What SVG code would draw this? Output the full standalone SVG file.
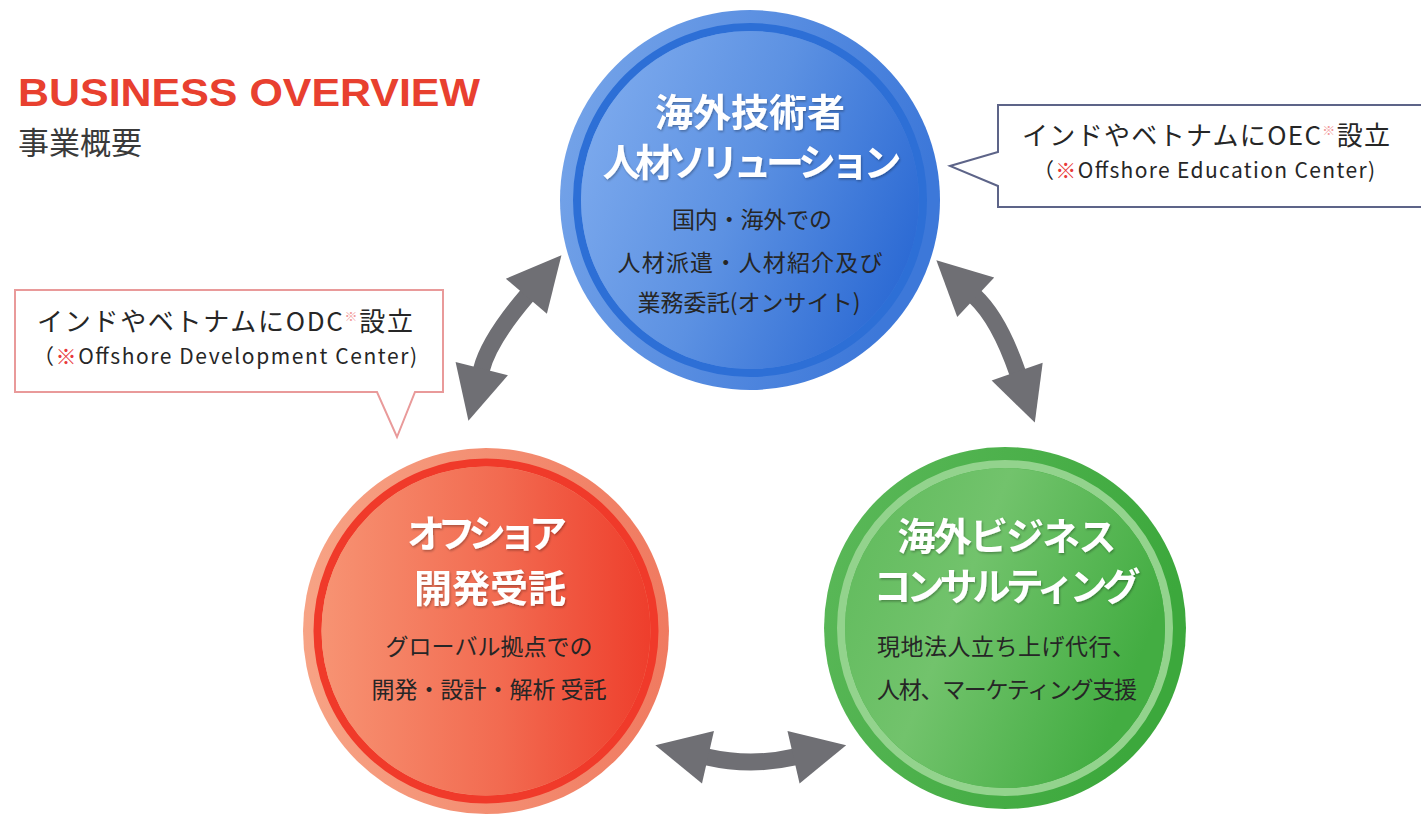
<svg xmlns="http://www.w3.org/2000/svg" width="1421" height="816" viewBox="0 0 1421 816">
<style>
.cjk{font-family:"Noto Sans CJK JP","Noto Sans",sans-serif}
.ttl{font-family:"Noto Sans CJK JP",sans-serif;font-weight:700;fill:#ffffff;text-anchor:middle;filter:url(#sh)}
.sub{font-family:"Noto Sans CJK JP",sans-serif;font-size:23px;fill:#262626;text-anchor:middle}
.co{font-family:"Noto Sans CJK JP","Noto Sans",sans-serif;fill:#262626;text-anchor:middle}
.shaft{fill:none;stroke:#6f6f74;stroke-width:17;marker-start:url(#ah);marker-end:url(#ah)}
.note{fill:#e8393a}
.sup{fill:#f29a9a;font-size:13px}
</style>
<defs>
<filter id="sh" x="-10%" y="-20%" width="120%" height="140%">
<feDropShadow dx="1" dy="1.5" stdDeviation="1" flood-color="#000" flood-opacity="0.3"/>
</filter>
<marker id="ah" markerUnits="userSpaceOnUse" viewBox="-2 -30 60 60" refX="0" refY="0" markerWidth="60" markerHeight="60" orient="auto-start-reverse" overflow="visible">
<path d="M-1,-27 L53,0 L-1,27 Z" fill="#6f6f74"/>
</marker>
<linearGradient id="bOut" x1="0" y1="0" x2="1" y2="0.3"><stop offset="0" stop-color="#79a7ea"/><stop offset="1" stop-color="#3d78d9"/></linearGradient>
<linearGradient id="bIn" x1="0" y1="0.2" x2="1" y2="0.6"><stop offset="0" stop-color="#7eabee"/><stop offset="0.5" stop-color="#5c91e2"/><stop offset="1" stop-color="#2d6bd4"/></linearGradient>
<linearGradient id="rOut" x1="0" y1="0" x2="1" y2="0"><stop offset="0" stop-color="#f7a385"/><stop offset="1" stop-color="#f07a60"/></linearGradient>
<linearGradient id="rIn" x1="0" y1="0" x2="1" y2="0"><stop offset="0" stop-color="#f79373"/><stop offset="0.55" stop-color="#f26a50"/><stop offset="1" stop-color="#ee3e2c"/></linearGradient>
<linearGradient id="gOut" x1="0" y1="0" x2="1" y2="0.3"><stop offset="0" stop-color="#5cb95a"/><stop offset="1" stop-color="#3ca83c"/></linearGradient>
<linearGradient id="gIn" x1="0" y1="0" x2="1" y2="0.4"><stop offset="0" stop-color="#5fba5b"/><stop offset="0.45" stop-color="#72c36c"/><stop offset="1" stop-color="#43ad42"/></linearGradient>
</defs>
<rect width="1421" height="816" fill="#ffffff"/>

<g id="heading">
<text x="18" y="106" font-family="Liberation Sans,Arial,sans-serif" font-weight="700" font-size="39" fill="#e8402f" textLength="462" lengthAdjust="spacingAndGlyphs">BUSINESS OVERVIEW</text>
<text x="18" y="154" class="cjk" font-size="31" fill="#3a3a3a">事業概要</text>
</g>

<g id="connectors">
<path class="shaft" d="M481.5,369.5 Q489,340 527,295.5"/>
<path class="shaft" d="M975,296.5 Q999,319 1017.5,372.5"/>
<path class="shaft" d="M707,757 Q751,767 794.5,757"/>
</g>

<g id="node-jinzai">
<circle cx="750" cy="200" r="190" fill="url(#bOut)"/>
<circle cx="750" cy="200" r="173" fill="none" stroke="#2d6fd6" stroke-width="8"/>
<circle cx="750" cy="200" r="169" fill="url(#bIn)"/>
<text x="750" y="126" class="ttl" font-size="38">海外技術者</text>
<text x="752" y="176" class="ttl" font-size="38" textLength="299" lengthAdjust="spacing">人材ソリューション</text>
<text x="752" y="228" class="sub" textLength="160" lengthAdjust="spacing">国内・海外での</text>
<text x="750" y="271" class="sub" textLength="265" lengthAdjust="spacing">人材派遣・人材紹介及び</text>
<text x="749" y="311" class="sub" textLength="223" lengthAdjust="spacing">業務委託(オンサイト)</text>
</g>

<g id="node-offshore">
<circle cx="486" cy="631" r="183" fill="url(#rOut)"/>
<circle cx="486" cy="631" r="168.5" fill="none" stroke="#f03a2a" stroke-width="8"/>
<circle cx="486" cy="631" r="164.5" fill="url(#rIn)"/>
<text x="487" y="547" class="ttl" font-size="38" textLength="160" lengthAdjust="spacing">オフショア</text>
<text x="490" y="602" class="ttl" font-size="38">開発受託</text>
<text x="489" y="655" class="sub">グローバル拠点での</text>
<text x="489" y="698" class="sub" textLength="235" lengthAdjust="spacing">開発・設計・解析 受託</text>
</g>

<g id="node-consulting">
<circle cx="1005" cy="628" r="181" fill="url(#gOut)"/>
<circle cx="1005" cy="628" r="164" fill="none" stroke="#93d38d" stroke-width="8"/>
<circle cx="1005" cy="628" r="160" fill="url(#gIn)"/>
<text x="1007" y="550" class="ttl" font-size="38" textLength="219" lengthAdjust="spacing">海外ビジネス</text>
<text x="1007" y="600" class="ttl" font-size="38" textLength="267" lengthAdjust="spacing">コンサルティング</text>
<text x="1006" y="655" class="sub" textLength="258" lengthAdjust="spacing">現地法人立ち上げ代行、</text>
<text x="1007" y="698" class="sub" textLength="260" lengthAdjust="spacing">人材、マーケティング支援</text>
</g>

<g id="callout-oec">
<path d="M1424,105 H998 V152 L950,166 L998,186 V207 H1424 Z" fill="#ffffff" stroke="#5d6488" stroke-width="2"/>
<text x="1206" y="145" class="co" font-size="26" textLength="368" lengthAdjust="spacing">インドやベトナムにOEC<tspan class="sup" dy="-10">※</tspan><tspan dy="10">設立</tspan></text>
<text x="1204" y="178" class="co" font-size="21" textLength="342" lengthAdjust="spacing">（<tspan class="note">※</tspan>Offshore Education Center)</text>
</g>

<g id="callout-odc">
<path d="M15,290 H443 V392 H415 L397,437 L377,392 H15 Z" fill="#ffffff" stroke="#e99a9a" stroke-width="2"/>
<text x="225" y="331" class="co" font-size="26" textLength="376" lengthAdjust="spacing">インドやベトナムにODC<tspan class="sup" dy="-10">※</tspan><tspan dy="10">設立</tspan></text>
<text x="225" y="364" class="co" font-size="21" textLength="384" lengthAdjust="spacing">（<tspan class="note">※</tspan>Offshore Development Center)</text>
</g>
</svg>
